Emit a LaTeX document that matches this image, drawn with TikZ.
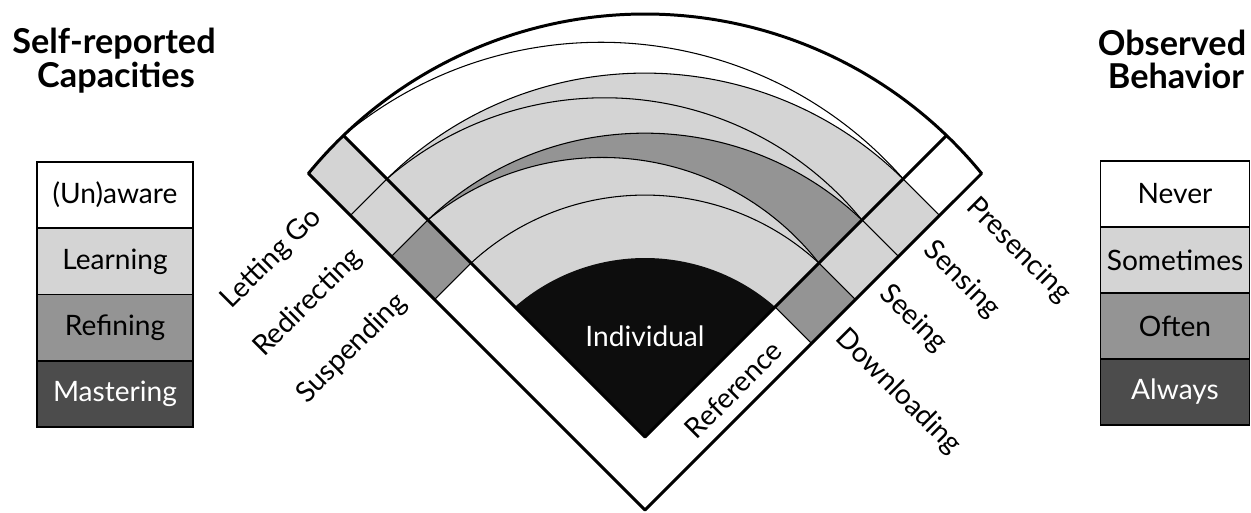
\documentclass[tikz,border=0pt]{standalone}
\usepackage{fontspec}
\setmainfont{Lato}
\colorlet{lightfill}{black!17}
\colorlet{midfill}{black!42}
\colorlet{darkfill}{black!70}

\begin{document}
\begin{tikzpicture}[x=0.02cm,y=0.02cm,
  thickline/.style={line width=1.7pt,line join=round},
  thinline/.style={line width=0.6pt},
  lbl/.style={font=\fontsize{16}{19}\selectfont,inner sep=0pt},
  title/.style={font=\fontsize{19.5}{22}\selectfont\bfseries,anchor=base},
  legend/.style={draw,line width=0.9pt,minimum width=3.12cm,minimum height=1.325cm,
    inner sep=0pt,font=\fontsize{16}{19}\selectfont}]
\useasboundingbox (0,0) rectangle (1251,512);

% points of the fan
\coordinate (A) at (645,2);
\coordinate (B) at (645,75);
\coordinate (OL) at ([shift={(645,63)}]140.7:435);
\coordinate (OR) at ([shift={(645,63)}]39.3:435);
\coordinate (L0) at ([shift={(B)}]135:426.4);
\coordinate (R0) at ([shift={(B)}]45:426.4);
\coordinate (L1) at ([shift={(B)}]135:184);
\coordinate (L2) at ([shift={(B)}]135:246);
\coordinate (L3) at ([shift={(B)}]135:307);
\coordinate (L4) at ([shift={(B)}]135:365);
\coordinate (R1) at ([shift={(B)}]45:184);
\coordinate (R2) at ([shift={(B)}]45:246);
\coordinate (R3) at ([shift={(B)}]45:307);
\coordinate (R4) at ([shift={(B)}]45:365);
\coordinate (L2o) at ([shift={(L2)}]225:51.6);
\coordinate (L3o) at ([shift={(L3)}]225:51.6);
\coordinate (L4o) at ([shift={(L4)}]225:51.6);
\coordinate (R1o) at ([shift={(R1)}]-45:51.6);
\coordinate (R2o) at ([shift={(R2)}]-45:51.6);
\coordinate (R3o) at ([shift={(R3)}]-45:51.6);
\coordinate (R4o) at ([shift={(R4)}]-45:51.6);

% rings
\fill[color=lightfill] (B) -- (L4) arc[start angle=134.6,end angle=45.4,radius=367.5] -- cycle;
\fill[color=midfill] (L3) arc[start angle=133.6,end angle=46.4,radius=314.6] -- (R2)
  arc[start angle=38.0,end angle=129.4,radius=274.8] -- cycle;
\fill[color=black!95] (B) -- (L1) arc[start angle=131.2,end angle=48.8,radius=197.5] -- cycle;

% cells of the band
\fill[color=lightfill] (L4) -- (L4o) -- (OL) arc[start angle=140.7,end angle=133.9,radius=435] -- cycle;
\fill[color=lightfill] (L3) -- (L3o) -- (L4o) -- (L4) -- cycle;
\fill[color=midfill] (L2) -- (L2o) -- (L3o) -- (L3) -- cycle;
\fill[color=midfill] (R1) -- (R1o) -- (R2o) -- (R2) -- cycle;
\fill[color=lightfill] (R2) -- (R2o) -- (R3o) -- (R3) -- cycle;
\fill[color=lightfill] (R3) -- (R3o) -- (R4o) -- (R4) -- cycle;

\draw[thinline] (L0) arc[start angle=129.8,end angle=41.4,radius=402.4];
\draw[thinline] (L4) arc[start angle=134.6,end angle=45.4,radius=367.5];
\draw[thinline] (L4) arc[start angle=130.9,end angle=39.2,radius=332.3];
\draw[thinline] (L3) arc[start angle=133.6,end angle=46.4,radius=314.6];
\draw[thinline] (L3) arc[start angle=129.4,end angle=38.0,radius=274.8];
\draw[thinline] (L2) arc[start angle=132.7,end angle=47.3,radius=256.5];

\draw[thinline] (L2) -- (L2o);
\draw[thinline] (L3) -- (L3o);
\draw[thinline] (L4) -- (L4o);
\draw[thinline] (R1) -- (R1o);
\draw[thinline] (R2) -- (R2o);
\draw[thinline] (R3) -- (R3o);
\draw[thinline] (R4) -- (R4o);

\draw[thickline] (A) -- (OL) arc[start angle=140.7,end angle=39.3,radius=435] -- cycle;
\draw[thickline] (L0) -- (B) -- (R0);

\node (indiv) at (645,176) [lbl,text=white] {Individual};
\node (refer) at (733.4,122.4) [lbl,rotate=45] {Reference};

\node (letgo) at (317.2,298.8) [lbl,rotate=45,anchor=east] {Letting Go};
\node (redir) at (357.5,258.5) [lbl,rotate=45,anchor=east] {Redirecting};
\node (susp) at (402.1,213.9) [lbl,rotate=45,anchor=east] {Suspending};

\node (presc) at (970.7,309.3) [lbl,rotate=-45,anchor=west] {Presencing};
\node (sens) at (927.6,266.2) [lbl,rotate=-45,anchor=west] {Sensing};
\node (seeg) at (883.7,222.3) [lbl,rotate=-45,anchor=west] {Seeing};
\node (downl) at (839.9,178.5) [lbl,rotate=-45,anchor=west] {Downloading};

% left legend
\node (selfrep) at (114,459) [title] {Self-reported};
\node (capac) at (116,425) [title] {Capacities};
\node (unaware) at (115,316.9) [legend] {(Un)aware};
\node (learning) at (115,250.6) [legend,fill=lightfill] {Learning};
\node (refining) at (115,184.4) [legend,fill=midfill] {Refining};
\node (mastering) at (115,118.1) [legend,fill=darkfill,text=white] {Mastering};

% right legend
\node (observed) at (1172,457) [title] {Observed};
\node (behavior) at (1176,424) [title] {Behavior};
\node (never) at (1175,318) [legend,minimum width=2.98cm,minimum height=1.32cm] {Never};
\node (sometimes) at (1175,252) [legend,minimum width=2.98cm,minimum height=1.32cm,fill=lightfill] {Sometimes};
\node (often) at (1175,186) [legend,minimum width=2.98cm,minimum height=1.32cm,fill=midfill] {Often};
\node (always) at (1175,120) [legend,minimum width=2.98cm,minimum height=1.32cm,fill=darkfill,text=white] {Always};

\end{tikzpicture}
\end{document}
